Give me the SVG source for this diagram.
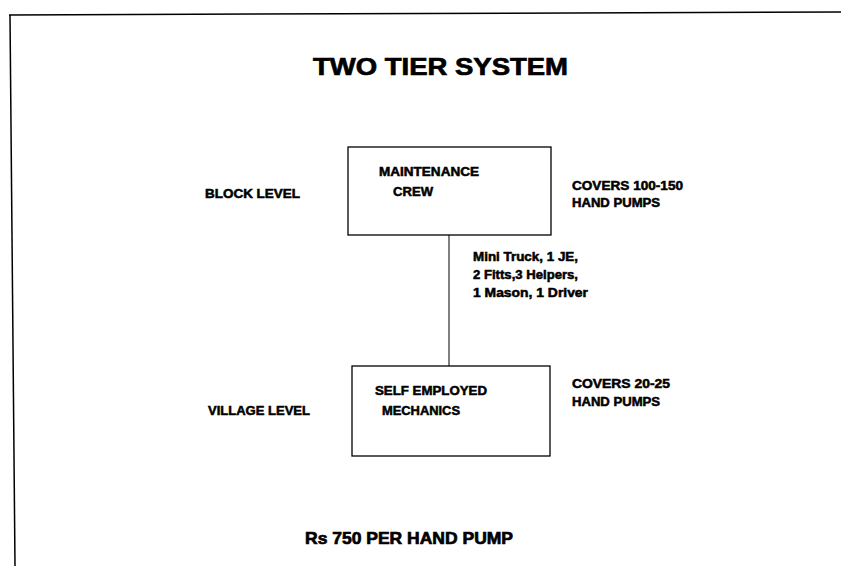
<svg xmlns="http://www.w3.org/2000/svg" width="841" height="566" viewBox="0 0 841 566">
  <style>
    text { font-family: "Liberation Sans", Arial, sans-serif; font-weight: bold; fill: #000; }
    .sm { font-size: 12px; stroke: #000; stroke-width: 0.5px; }
    .big { stroke: #000; stroke-width: 0.7px; }
    .box { fill: #fff; stroke: #000; stroke-width: 1.3; }
    .conn { stroke: #000; stroke-width: 1; fill: none; }
    .frame { stroke: #000; stroke-width: 1.5; fill: none; }
  </style>
  <rect width="841" height="566" fill="#fff"/>
  <g id="frame">
    <path class="frame" d="M9,15 L841,12"/>
    <path class="frame" d="M10,15 L15,566"/>
  </g>
  <text id="title" class="big" x="313" y="75" font-size="24" textLength="255" lengthAdjust="spacingAndGlyphs">TWO TIER SYSTEM</text>
  <g id="connectors">
    <line class="conn" x1="449" y1="235" x2="449" y2="366"/>
  </g>
  <g id="maintenance-crew">
    <rect class="box" x="348" y="147" width="203" height="88"/>
    <text class="sm" x="379" y="176" textLength="100" lengthAdjust="spacingAndGlyphs">MAINTENANCE</text>
    <text class="sm" x="393" y="196" textLength="40" lengthAdjust="spacingAndGlyphs">CREW</text>
  </g>
  <g id="self-employed-mechanics">
    <rect class="box" x="352" y="366" width="198" height="90"/>
    <text class="sm" x="375" y="395" textLength="112" lengthAdjust="spacingAndGlyphs">SELF EMPLOYED</text>
    <text class="sm" x="382" y="415" textLength="78" lengthAdjust="spacingAndGlyphs">MECHANICS</text>
  </g>
  <g id="labels">
    <text class="sm" x="205" y="198" textLength="95" lengthAdjust="spacingAndGlyphs">BLOCK LEVEL</text>
    <text class="sm" x="208" y="415" textLength="102" lengthAdjust="spacingAndGlyphs">VILLAGE LEVEL</text>
    <text class="sm" x="572" y="190" textLength="111" lengthAdjust="spacingAndGlyphs">COVERS 100-150</text>
    <text class="sm" x="572" y="207" textLength="88" lengthAdjust="spacingAndGlyphs">HAND PUMPS</text>
    <text class="sm" x="572" y="388" textLength="98" lengthAdjust="spacingAndGlyphs">COVERS 20-25</text>
    <text class="sm" x="572" y="406" textLength="88" lengthAdjust="spacingAndGlyphs">HAND PUMPS</text>
    <text class="sm" x="473" y="261" textLength="105" lengthAdjust="spacingAndGlyphs">Mini Truck, 1 JE,</text>
    <text class="sm" x="473" y="279" textLength="105" lengthAdjust="spacingAndGlyphs">2 Fitts,3 Helpers,</text>
    <text class="sm" x="473" y="297" textLength="115" lengthAdjust="spacingAndGlyphs">1 Mason, 1 Driver</text>
  </g>
  <text id="footer" class="big" x="305" y="544" font-size="17" textLength="208" lengthAdjust="spacingAndGlyphs">Rs 750 PER HAND PUMP</text>
</svg>
